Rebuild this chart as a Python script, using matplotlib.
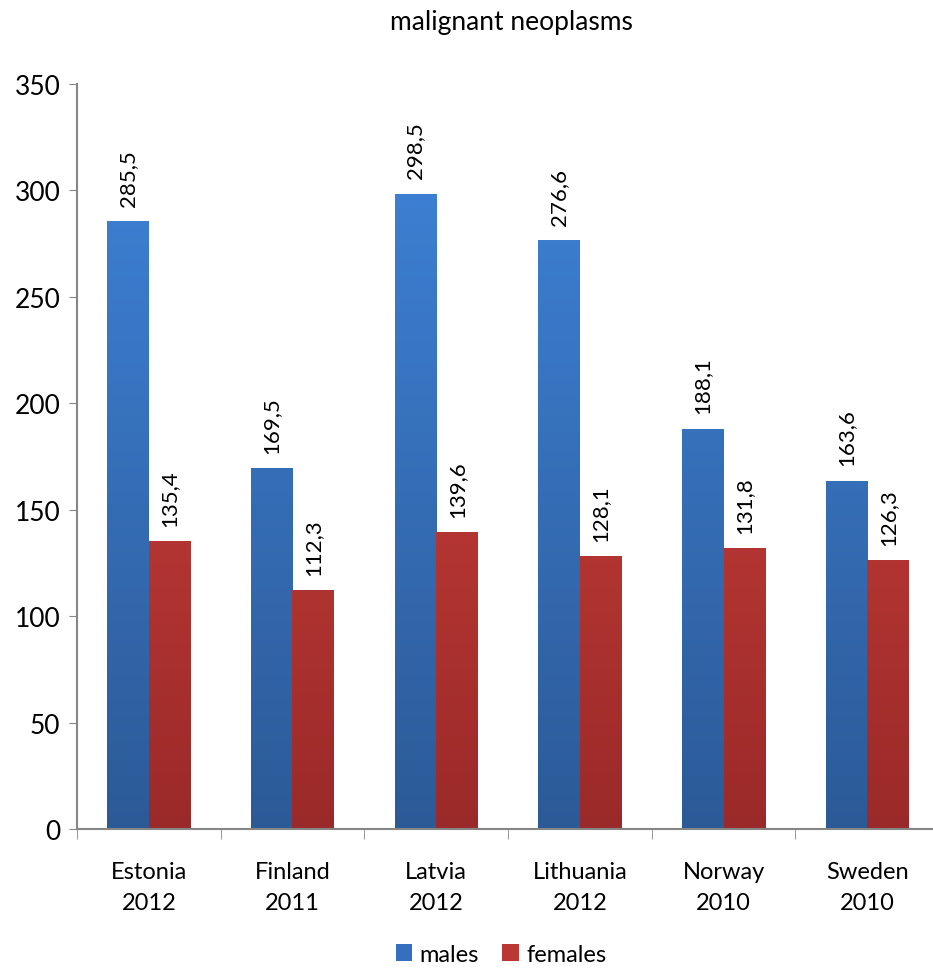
import numpy as np
import matplotlib
matplotlib.use("Agg")
import matplotlib.pyplot as plt
from matplotlib.colors import LinearSegmentedColormap
from matplotlib.patches import Patch

countries = ["Estonia\n2012", "Finland\n2011", "Latvia\n2012",
             "Lithuania\n2012", "Norway\n2010", "Sweden\n2010"]
males = [285.5, 169.5, 298.5, 276.6, 188.1, 163.6]
females = [135.4, 112.3, 139.6, 128.1, 131.8, 126.3]

plt.rcParams['font.family'] = ['Lato', 'DejaVu Sans']

fig = plt.figure(figsize=(9.33, 9.70), dpi=100)
ax = fig.add_axes([0.0825, 0.1443, 0.9240, 0.7681])

x = np.arange(len(countries))
w = 0.29

blue_cmap = LinearSegmentedColormap.from_list("b", ["#2c5a97", "#3d7fd2"])
red_cmap = LinearSegmentedColormap.from_list("r", ["#9a2a29", "#d2423e"])

grad = np.linspace(0, 1, 256).reshape(-1, 1)


def gradient_bars(bars, cmap, ymax):
    # fill each bar with a vertical gradient clipped to its rectangle
    for b in bars:
        x0 = b.get_x()
        im = ax.imshow(grad, cmap=cmap, origin="lower", aspect="auto",
                       extent=[x0, x0 + b.get_width(), 0, ymax], zorder=2)
        im.set_clip_path(b)
        b.set_facecolor("none")


bm = ax.bar(x - w / 2, males, w, color="#3d7fd2", zorder=2, linewidth=0)
bf = ax.bar(x + w / 2, females, w, color="#d2423e", zorder=2, linewidth=0)
gradient_bars(bm, blue_cmap, 300)
gradient_bars(bf, red_cmap, 300)

for bars, vals in [(bm, males), (bf, females)]:
    for b, v in zip(bars, vals):
        ax.annotate(f"{v:.1f}".replace(".", ","),
                    (b.get_x() + b.get_width() / 2, v),
                    xytext=(0, 11), textcoords="offset points",
                    rotation=90, ha="center", va="bottom", fontsize=16)

ax.set_xlim(-0.5, len(countries) - 0.5)
ax.set_ylim(0, 350)
ax.set_yticks(np.arange(0, 351, 50))
ax.tick_params(axis="y", labelsize=19, length=6, color="#868686", pad=6)

ax.set_xticks(x)
ax.set_xticklabels(countries, fontsize=17, linespacing=1.6)
ax.tick_params(axis="x", length=0, pad=23)
ax.set_xticks(np.arange(-0.5, len(countries)), minor=True)
ax.tick_params(axis="x", which="minor", length=7, color="#868686")

for s in ["top", "right"]:
    ax.spines[s].set_visible(False)
for s in ["left", "bottom"]:
    ax.spines[s].set_color("#868686")
    ax.spines[s].set_linewidth(1.5)

fig.text(0.548, 0.977, "malignant neoplasms", ha="center", va="center", fontsize=19)

handles = [Patch(facecolor="#3470bd", label="males"),
           Patch(facecolor="#bb3734", label="females")]
fig.legend(handles=handles, loc="center", bbox_to_anchor=(0.537, 0.015),
           ncol=2, frameon=False, fontsize=17, handlelength=0.7,
           handleheight=0.7, handletextpad=0.3, columnspacing=1.0)

fig.savefig("out.png", dpi=100)
